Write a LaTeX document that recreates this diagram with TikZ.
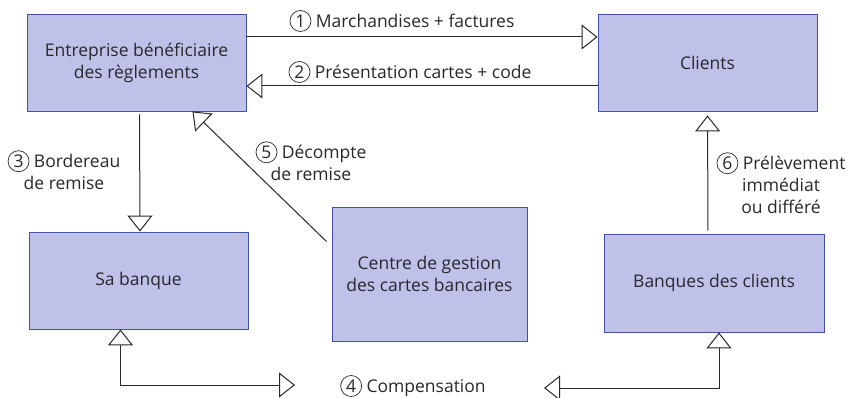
\documentclass[tikz,border=0pt]{standalone}
\usepackage{fontspec}
\setmainfont{Open Sans}
\usetikzlibrary{arrows.meta}

\definecolor{boxfill}{RGB}{192,193,233}
\definecolor{boxline}{RGB}{66,82,170}
\definecolor{ink}{RGB}{40,40,45}

\tikzset{
  box/.style={draw=boxline, fill=boxfill, line width=0.9pt, minimum width=219pt,
    minimum height=97pt, align=center, text=ink, inner sep=0pt},
  flow/.style={draw=ink, line width=1pt},
  lbl/.style={text=ink, align=center, inner sep=0pt},
}
\newcommand{\num}[1]{\tikz[baseline=(n.base)]\node[draw=ink,circle,line width=0.7pt,
  inner sep=0pt,minimum size=21pt,text=ink](n){#1};}

\begin{document}
\begin{tikzpicture}[x=1pt, y=-1pt, >={Triangle[open,length=16pt,width=25pt]},
    every node/.append style={font=\fontsize{17.5}{22}\selectfont}]
  \useasboundingbox (0,0) rectangle (850,398);
  % boxes
  \node[box] (entreprise) at (136.5,62.5) {Entreprise bénéficiaire\\des règlements};
  \node[box] (clients) at (707.5,62.5) {Clients};
  \node[box] (banque) at (138.5,280.5) {Sa banque};
  \node[box, minimum width=195pt, minimum height=134pt] (centre) at (429.5,274)
    {Centre de gestion\\des cartes bancaires};
  \node[box, minimum width=220pt, minimum height=98pt] (banques) at (714,283)
    {Banques des clients};
  % labels
  \node[lbl] (l1) at (402,21) {\num{1} Marchandises + factures};
  \node[lbl] (l2) at (410,72) {\num{2} Présentation cartes + code};
  \node[lbl] (l3) at (64,170) {\num{3} Bordereau\\de remise};
  \node[lbl] (l4) at (413,386) {\num{4} Compensation};
  \node[lbl] (l5) at (311,161) {\num{5} Décompte\\de remise};
  \node[lbl] (l6) at (781,183) {\num{6} Prélèvement\\immédiat\\ou différé};
  \coordinate (c4l) at (295,385);
  \coordinate (c4r) at (544,388);
  % flows
  \draw[flow, ->] ([yshift=25.5pt]entreprise.east) -- ([yshift=25.5pt]clients.west);
  \draw[flow, ->] ([yshift=-23.5pt]clients.west) -- ([yshift=-23.5pt]entreprise.east);
  \draw[flow, ->, shorten <=3pt] ([xshift=3pt]entreprise.south) -- ([xshift=1.5pt]banque.north);
  \draw[flow, ->] ([xshift=-5pt,yshift=-35pt]centre.north west) -- ([xshift=-54pt]entreprise.south east);
  \draw[flow, ->, shorten <=3pt, shorten >=4pt] ([xshift=-6pt]banques.north) -- (clients.south);
  \draw[flow, <->] ([xshift=-18pt]banque.south) |- (c4l);
  \draw[flow, <->] ([xshift=5pt]banques.south) |- (c4r);
\end{tikzpicture}
\end{document}
